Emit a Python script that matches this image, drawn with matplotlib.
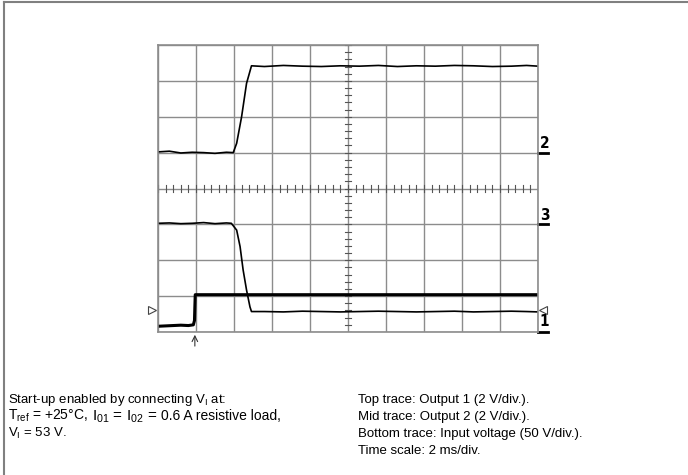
import matplotlib.pyplot as plt
from matplotlib.lines import Line2D

plt.rcParams['font.family'] = ['Liberation Sans', 'DejaVu Sans']
plt.rcParams['mathtext.fontset'] = 'custom'
plt.rcParams['mathtext.rm'] = 'Liberation Sans'

# time in divisions (2 ms/div), levels in divisions from the bottom of the screen
t_out1 = [0, 0.3, 0.6, 0.9, 1.2, 1.5, 1.8, 1.98, 2.07, 2.2, 2.33, 2.46,
          2.8, 3.3, 3.8, 4.3, 4.8, 5.3, 5.8, 6.3, 6.8, 7.3, 7.8, 8.3, 8.8, 9.3, 9.7, 10]
v_out1 = [5.02, 5.04, 4.99, 5.01, 5.00, 4.98, 5.01, 5.00, 5.26, 6.00, 6.93, 7.42,
          7.40, 7.43, 7.41, 7.40, 7.42, 7.41, 7.43, 7.40, 7.42, 7.41, 7.43, 7.42, 7.40, 7.41, 7.43, 7.41]

t_out2 = [0, 0.3, 0.6, 0.9, 1.2, 1.5, 1.8, 1.93, 2.07, 2.16, 2.24, 2.33, 2.42, 2.46,
          2.8, 3.3, 3.8, 4.3, 4.8, 5.3, 5.8, 6.3, 6.8, 7.3, 7.8, 8.3, 8.8, 9.3, 9.7, 10]
v_out2 = [3.03, 3.04, 3.02, 3.03, 3.05, 3.02, 3.04, 3.03, 2.84, 2.38, 1.73, 1.17, 0.70, 0.57,
          0.57, 0.56, 0.58, 0.57, 0.56, 0.57, 0.58, 0.57, 0.56, 0.57, 0.58, 0.56, 0.57, 0.58, 0.57, 0.56]

t_vin = [0, 0.2, 0.4, 0.6, 0.8, 0.93, 0.96, 0.97, 0.98, 1.5, 3, 5, 7, 9, 10]
v_vin = [0.16, 0.17, 0.18, 0.19, 0.18, 0.20, 0.32, 0.70, 1.04, 1.04, 1.04, 1.04, 1.04, 1.04, 1.04]

note_right = ['Top trace: Output 1 (2 V/div.).',
              'Mid trace: Output 2 (2 V/div.).',
              'Bottom trace: Input voltage (50 V/div.).',
              'Time scale: 2 ms/div.']

W, H = 688, 475
fig = plt.figure(figsize=(W / 100, H / 100), dpi=100)

# outer frame (top and left only)
fig.add_artist(Line2D([4 / W, 1], [1 - 1.5 / H, 1 - 1.5 / H], color='#808080', lw=1.5))
fig.add_artist(Line2D([4 / W, 4 / W], [0, 1 - 1.5 / H], color='#808080', lw=1.5))

ax = fig.add_axes([158 / W, (H - 332) / H, 380 / W, 287 / H])
ax.set_xlim(0, 10)
ax.set_ylim(0, 8)
ax.set_xticks(range(11))
ax.set_yticks(range(9))
ax.tick_params(length=0, labelbottom=False, labelleft=False)
ax.grid(True, color='#8c8c8c', lw=1)
for s in ax.spines.values():
    s.set_color('#8c8c8c')
    s.set_linewidth(1.2)

# graticule minor ticks on centre lines
for i in range(41):
    y = i * 0.2
    ax.plot([4.91, 5.09], [y, y], color='#555555', lw=0.8)
for i in range(51):
    x = i * 0.2
    ax.plot([x, x], [3.89, 4.11], color='#555555', lw=0.8)

ax.plot(t_out1, v_out1, color='black', lw=1.2)
ax.plot(t_out2, v_out2, color='black', lw=1.2)
ax.plot(t_vin, v_vin, color='black', lw=2.2)

# channel markers on the right
for lvl, lab, dy in [(5, '2', 0.05), (3, '3', 0.05), (0, '1', 0.08)]:
    ax.plot([10, 10.26], [lvl, lvl], color='black', lw=2, clip_on=False)
    ax.text(10.05, lvl + dy, lab, fontsize=11, fontweight='bold', family='DejaVu Sans',
            fontstretch='condensed', ha='left', va='bottom', clip_on=False)
ax.plot([10.12], [0.62], marker='<', ms=6, mfc='white', mec='#444444', mew=0.8, clip_on=False)
ax.plot([-0.15], [0.62], marker='>', ms=6, mfc='white', mec='#444444', mew=0.8, clip_on=False)

# trigger arrow
ax.annotate('', xy=(0.97, 0), xytext=(0.97, -0.47),
            arrowprops=dict(arrowstyle='->', lw=0.8, color='#333333'),
            annotation_clip=False)

fs = 9.5
base = [403, 420, 437, 454]
fig.text(8 / W, 1 - base[0] / H, r'Start-up enabled by connecting V$_\mathregular{I}$ at:',
         fontsize=fs, va='baseline')
# second line is set in pieces (larger symbols in the middle part)
p1 = fig.text(8 / W, 1 - base[1] / H, r'T$_\mathregular{ref}$ = +25°C,', fontsize=10,
              va='baseline')
p2 = fig.text(90 / W, 1 - base[1] / H,
              r'I$_\mathregular{01}$ = I$_\mathregular{02}$ =', fontsize=11, va='baseline')
p3 = fig.text(170 / W, 1 - base[1] / H, '0.6 A resistive load,', fontsize=10,
              va='baseline')
fig.text(8 / W, 1 - base[2] / H, r'V$_\mathregular{I}$ = 53 V.', fontsize=fs, va='baseline')
for i, s in enumerate(note_right):
    fig.text(358 / W, 1 - base[i] / H, s, fontsize=fs, va='baseline')

# chain the pieces of the second line with a word space between them
fig.canvas.draw()
r = fig.canvas.get_renderer()
e1 = p1.get_window_extent(r)
p2.set_x((e1.x1 + 4) / W)
fig.canvas.draw()
e2 = p2.get_window_extent(r)
p3.set_x((e2.x1 + 4) / W)

fig.savefig('out.png', dpi=100)
